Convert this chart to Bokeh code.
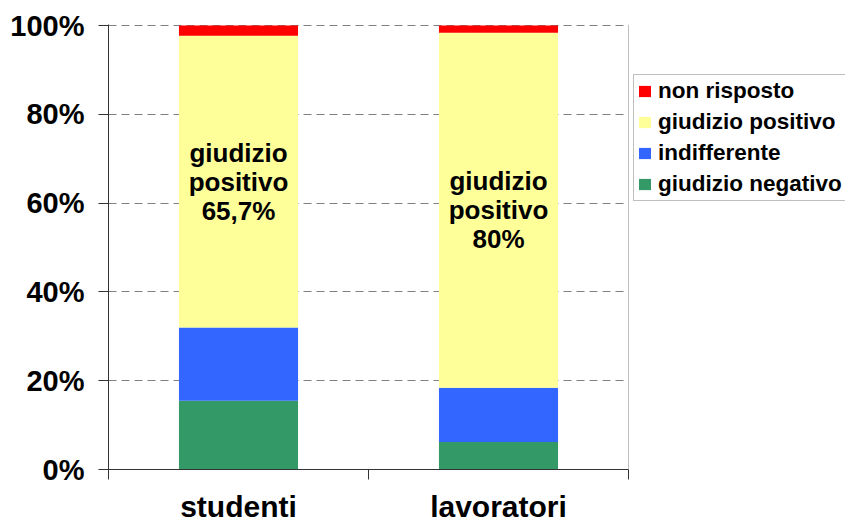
from bokeh.plotting import figure
from bokeh.models import (FixedTicker, Legend, LegendItem, Span, ColumnDataSource,
                          Range1d)
from bokeh.core.properties import value
from bokeh.embed import file_html
from bokeh.resources import INLINE

# ---- data ----
categories = ["studenti", "lavoratori"]
series = ["giudizio negativo", "indifferente", "giudizio positivo", "non risposto"]
negativo = [15.5, 6.2]
indifferente = [16.5, 12.2]
positivo = [65.7, 80.0]
non_risposto = [2.3, 1.6]
y_ticks = [0, 20, 40, 60, 80, 100]
colors = ["#339966", "#3366FF", "#FFFF99", "#FF0000"]

FONT = "Liberation Sans"

x_pos = [i + 0.5 for i in range(len(categories))]
source = ColumnDataSource(dict(
    x=x_pos,
    neg=negativo, ind=indifferente, pos=positivo, nr=non_risposto,
))

p = figure(
    frame_width=520, frame_height=445,
    min_border_left=108, min_border_right=217,
    min_border_top=24, min_border_bottom=55,
    x_range=Range1d(0, len(categories)), y_range=Range1d(0, 100.25),
    output_backend="svg", toolbar_location=None,
)
p.outline_line_color = None
p.background_fill_color = "white"
p.border_fill_color = "white"

renderers = p.vbar_stack(["neg", "ind", "pos", "nr"], x="x", width=0.458,
                         color=colors, line_color=None, source=source)

# grid
p.xgrid.visible = False
p.ygrid.ticker = FixedTicker(ticks=y_ticks[1:])
p.ygrid.grid_line_color = "#808080"
p.ygrid.grid_line_dash = "8 5"
p.ygrid.grid_line_width = 1

# right border of plot area
p.add_layout(Span(location=len(categories), dimension="height",
                  line_color="#808080", line_width=1))

# y axis
ya = p.yaxis[0]
ya.ticker = FixedTicker(ticks=y_ticks)
ya.major_label_overrides = {t: f"{t}%" for t in y_ticks}
ya.major_label_text_font = FONT
ya.major_label_text_font_style = "bold"
ya.major_label_text_font_size = "29px"
ya.major_label_text_color = "black"
ya.major_tick_out = 10
ya.major_tick_in = 0
ya.minor_tick_line_color = None
ya.axis_line_color = "#333333"
ya.major_tick_line_color = "#333333"
ya.major_label_standoff = 14

# x axis
xa = p.xaxis[0]
xa.ticker = FixedTicker(ticks=x_pos, minor_ticks=list(range(len(categories) + 1)))
xa.major_label_overrides = {x: c for x, c in zip(x_pos, categories)}
xa.major_label_text_font = FONT
xa.major_label_text_font_style = "bold"
xa.major_label_text_font_size = "30px"
xa.major_label_text_color = "black"
xa.major_tick_line_color = None
xa.minor_tick_out = 10
xa.minor_tick_in = 0
xa.minor_tick_line_color = "#333333"
xa.axis_line_color = "#333333"
xa.major_label_standoff = 10

# annotations inside the positive segment
mid = [n + d + v / 2 for n, d, v in zip(negativo, indifferente, positivo)]
def fmt(v):
    s = f"{v:.1f}".replace(".", ",")
    return (s[:-2] if s.endswith(",0") else s) + "%"
lines = [["giudizio"] * len(categories), ["positivo"] * len(categories),
         [fmt(v) for v in positivo]]
offsets = [-29, 0, 29]
for txt, off in zip(lines, offsets):
    p.text(x=x_pos, y=mid, text=txt, y_offset=off,
           text_font=value(FONT), text_font_style="bold",
           text_font_size="26px", text_align="center",
           text_baseline="middle", text_color="black")

# legend (top to bottom: reverse stack order)
items = [LegendItem(label=series[i], renderers=[renderers[i]])
         for i in reversed(range(len(series)))]
legend = Legend(items=items, location=(5, 268))
legend.label_text_font = FONT
legend.label_text_font_style = "bold"
legend.label_text_font_size = "22.5px"
legend.label_text_color = "black"
legend.glyph_width = 15
legend.glyph_height = 14
legend.label_height = 26
legend.label_standoff = 6
legend.spacing = 5
legend.padding = 3
legend.margin = 0
legend.border_line_color = "#808080"
legend.border_line_width = 1
legend.background_fill_color = "white"
legend.background_fill_alpha = 1
p.add_layout(legend, "right")

open("out.html", "w").write(file_html(p, INLINE))
